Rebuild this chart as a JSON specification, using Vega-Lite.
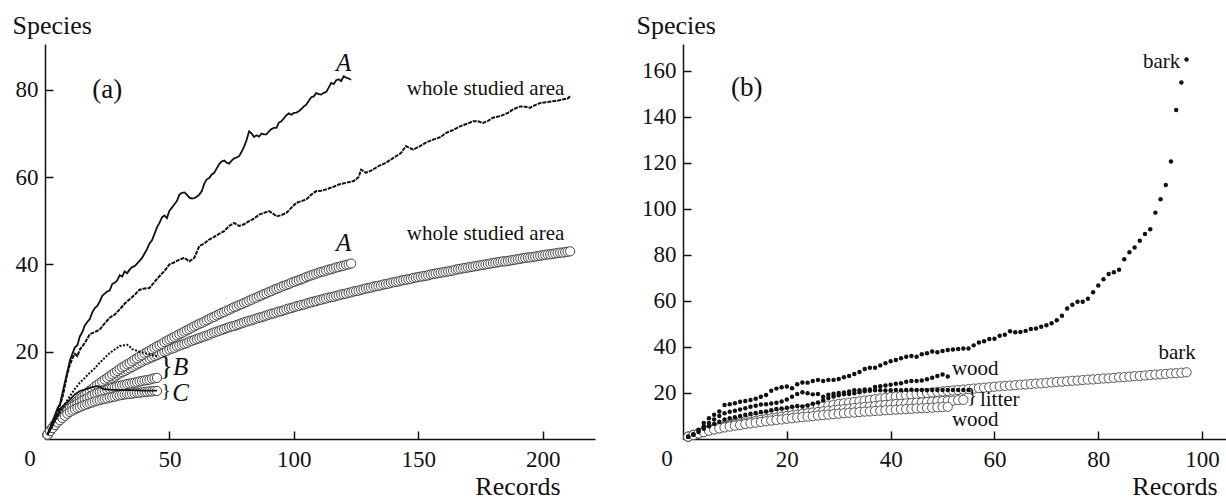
{
"$schema":"https://vega.github.io/schema/vega-lite/v6.json",
"background":"white",
"padding":{"left":12,"top":12,"right":0,"bottom":0},
"bounds":"flush",
"spacing":88,
"config":{"view":{"stroke":null},"font":"Liberation Serif",
"axis":{"grid":false,"domainColor":"#111","domainWidth":1.5,"tickColor":"#111","tickWidth":1.5,"tickSize":-8,"labelFont":"Liberation Serif","labelFontSize":23,"labelColor":"#111","titleFont":"Liberation Serif","titleFontSize":26,"titleFontWeight":"normal","titleColor":"#111"},
"axisX":{"labelPadding":17,"titleAngle":0,"titleAlign":"right","titleBaseline":"alphabetic","titleY":55.5},
"axisY":{"labelPadding":15,"titleAngle":0,"titleAlign":"left","titleBaseline":"alphabetic","titleY":-11}},
"datasets":{
"lA":[{"x":1,"y":1},{"x":2,"y":2.5},{"x":3,"y":4},{"x":4,"y":5.5},{"x":5,"y":7},{"x":6,"y":8},{"x":7,"y":10.5},{"x":8,"y":13},{"x":9,"y":15.5},{"x":10,"y":18},{"x":11,"y":19.5},{"x":12,"y":21},{"x":13,"y":21.5},{"x":14,"y":23.5},{"x":15,"y":24.5},{"x":16,"y":26},{"x":17,"y":26.8},{"x":18,"y":27.5},{"x":19,"y":29},{"x":20,"y":30},{"x":21,"y":30.5},{"x":22,"y":31.5},{"x":23,"y":32.8},{"x":24,"y":33.3},{"x":25,"y":33.8},{"x":26,"y":34},{"x":27,"y":35.5},{"x":28,"y":35.8},{"x":29,"y":36.3},{"x":30,"y":37.5},{"x":31,"y":37.2},{"x":32,"y":38.4},{"x":33,"y":38},{"x":34,"y":38.8},{"x":35,"y":39.4},{"x":36,"y":39.6},{"x":37,"y":40.2},{"x":38,"y":40.8},{"x":39,"y":41.5},{"x":40,"y":42.5},{"x":41,"y":43.5},{"x":42,"y":44.8},{"x":43,"y":45.5},{"x":44,"y":47},{"x":45,"y":48.5},{"x":46,"y":49.5},{"x":47,"y":50.8},{"x":48,"y":51.2},{"x":49,"y":50.6},{"x":50,"y":52.3},{"x":51,"y":53},{"x":52,"y":53.8},{"x":53,"y":54.5},{"x":54,"y":56},{"x":55,"y":56.4},{"x":56,"y":56.5},{"x":57,"y":56},{"x":58,"y":55.3},{"x":59,"y":55.1},{"x":60,"y":55.2},{"x":61,"y":55.5},{"x":62,"y":56},{"x":63,"y":56.8},{"x":64,"y":58.5},{"x":65,"y":59.5},{"x":66,"y":59.8},{"x":67,"y":60.6},{"x":68,"y":61},{"x":69,"y":62},{"x":70,"y":63},{"x":71,"y":63.6},{"x":72,"y":63.8},{"x":73,"y":63.3},{"x":74,"y":63.1},{"x":75,"y":63.8},{"x":76,"y":64.3},{"x":77,"y":64.5},{"x":78,"y":64.8},{"x":79,"y":65.8},{"x":80,"y":67},{"x":81,"y":68.5},{"x":82,"y":70.5},{"x":83,"y":70},{"x":84,"y":69.2},{"x":85,"y":69.6},{"x":86,"y":69.3},{"x":87,"y":70},{"x":88,"y":69.8},{"x":89,"y":69.8},{"x":90,"y":70.5},{"x":91,"y":71},{"x":92,"y":71.3},{"x":93,"y":71.3},{"x":94,"y":72.5},{"x":95,"y":72.8},{"x":96,"y":73.5},{"x":97,"y":74.2},{"x":98,"y":74.6},{"x":99,"y":74.3},{"x":100,"y":74.7},{"x":101,"y":74.8},{"x":102,"y":75.1},{"x":103,"y":75.6},{"x":104,"y":76.2},{"x":105,"y":76.6},{"x":106,"y":77.5},{"x":107,"y":78.3},{"x":108,"y":78.5},{"x":109,"y":79.3},{"x":110,"y":79},{"x":111,"y":78.9},{"x":112,"y":79.3},{"x":113,"y":79.5},{"x":114,"y":80.5},{"x":115,"y":81.6},{"x":116,"y":81.3},{"x":117,"y":82.2},{"x":118,"y":82.4},{"x":119,"y":82},{"x":120,"y":83.1},{"x":121,"y":82.8},{"x":122,"y":82.6},{"x":123,"y":82.3}],
"lW":[{"x":1,"y":1},{"x":3,"y":3.5},{"x":5,"y":6},{"x":7,"y":9.5},{"x":9,"y":15},{"x":10,"y":17},{"x":11,"y":18.5},{"x":12,"y":19.5},{"x":13,"y":19},{"x":14,"y":20.5},{"x":16,"y":22},{"x":18,"y":24},{"x":20,"y":24.5},{"x":22,"y":25.1},{"x":24,"y":26.5},{"x":26,"y":27.8},{"x":28,"y":28.5},{"x":30,"y":29.7},{"x":32,"y":31},{"x":34,"y":32},{"x":36,"y":33},{"x":38,"y":34.2},{"x":40,"y":34.5},{"x":42,"y":34.6},{"x":44,"y":36},{"x":46,"y":37.3},{"x":48,"y":38.5},{"x":50,"y":40},{"x":52,"y":40.5},{"x":54,"y":41.1},{"x":56,"y":41.5},{"x":58,"y":40.7},{"x":60,"y":41.5},{"x":62,"y":44.2},{"x":64,"y":44.8},{"x":66,"y":45.7},{"x":68,"y":46.3},{"x":70,"y":47},{"x":72,"y":47.6},{"x":74,"y":48.8},{"x":76,"y":49.5},{"x":78,"y":48.8},{"x":80,"y":49.2},{"x":82,"y":49.9},{"x":84,"y":50.5},{"x":86,"y":51.4},{"x":88,"y":51.8},{"x":90,"y":52.2},{"x":92,"y":51.5},{"x":93,"y":51},{"x":95,"y":51.3},{"x":97,"y":51.8},{"x":99,"y":53},{"x":101,"y":54.1},{"x":103,"y":54.5},{"x":105,"y":54.9},{"x":107,"y":56},{"x":109,"y":56.8},{"x":111,"y":56.9},{"x":113,"y":57.2},{"x":116,"y":57.8},{"x":118,"y":58.3},{"x":121,"y":58.7},{"x":124,"y":59.1},{"x":126,"y":60},{"x":127,"y":61.7},{"x":129,"y":61},{"x":131,"y":61.5},{"x":134,"y":62.5},{"x":137,"y":63.3},{"x":140,"y":64.4},{"x":143,"y":65.5},{"x":145,"y":67.1},{"x":148,"y":66.3},{"x":151,"y":67.2},{"x":153,"y":67.9},{"x":156,"y":68.6},{"x":159,"y":69.2},{"x":161,"y":70.1},{"x":164,"y":70.8},{"x":167,"y":71.7},{"x":170,"y":72.3},{"x":172,"y":72.8},{"x":174,"y":72.8},{"x":176,"y":72.4},{"x":178,"y":72.9},{"x":180,"y":73.6},{"x":183,"y":74},{"x":186,"y":74.7},{"x":188,"y":75.5},{"x":191,"y":76.2},{"x":193,"y":76.1},{"x":195,"y":75.9},{"x":197,"y":76.5},{"x":199,"y":77},{"x":202,"y":77.2},{"x":204,"y":77.4},{"x":206,"y":77.5},{"x":208,"y":77.8},{"x":210,"y":78},{"x":211,"y":78.5}],
"lB":[{"x":1,"y":1},{"x":2,"y":2},{"x":3,"y":3},{"x":4,"y":4.2},{"x":5,"y":5},{"x":6,"y":6},{"x":8,"y":8},{"x":10,"y":9.8},{"x":12,"y":11.5},{"x":14,"y":12.9},{"x":16,"y":14},{"x":18,"y":15.2},{"x":20,"y":16.2},{"x":22,"y":17.5},{"x":24,"y":18.6},{"x":26,"y":19.7},{"x":28,"y":20.5},{"x":30,"y":21.3},{"x":32,"y":21.5},{"x":33,"y":21.6},{"x":34,"y":21.2},{"x":35,"y":20.6},{"x":36,"y":20.4},{"x":38,"y":20},{"x":40,"y":19.7},{"x":42,"y":19.4},{"x":44,"y":19.1},{"x":45,"y":19}],
"lC":[{"x":1,"y":1},{"x":2,"y":2},{"x":3,"y":3},{"x":4,"y":4.3},{"x":5,"y":5.5},{"x":6,"y":6.8},{"x":8,"y":8},{"x":10,"y":9},{"x":12,"y":10.2},{"x":14,"y":11},{"x":16,"y":11.3},{"x":18,"y":11.7},{"x":20,"y":12},{"x":21,"y":12.1},{"x":22,"y":12},{"x":23,"y":11.6},{"x":24,"y":11.4},{"x":26,"y":11.3},{"x":30,"y":11.2},{"x":35,"y":11.2},{"x":40,"y":11.1},{"x":45,"y":11.1}],
"cW":[{"x":1,"y":1},{"x":2,"y":1.8},{"x":3,"y":2.5},{"x":4,"y":3.3},{"x":5,"y":4},{"x":6,"y":4.6},{"x":7,"y":5.2},{"x":8,"y":5.8},{"x":9,"y":6.4},{"x":10,"y":7},{"x":11,"y":7.5},{"x":12,"y":8},{"x":13,"y":8.5},{"x":14,"y":8.9},{"x":15,"y":9.4},{"x":16,"y":9.8},{"x":17,"y":10.2},{"x":18,"y":10.7},{"x":19,"y":11.1},{"x":20,"y":11.5},{"x":21,"y":11.9},{"x":22,"y":12.2},{"x":23,"y":12.6},{"x":24,"y":12.9},{"x":25,"y":13.3},{"x":26,"y":13.6},{"x":27,"y":14},{"x":28,"y":14.3},{"x":29,"y":14.7},{"x":30,"y":15},{"x":31,"y":15.3},{"x":32,"y":15.6},{"x":33,"y":15.9},{"x":34,"y":16.2},{"x":35,"y":16.5},{"x":36,"y":16.8},{"x":37,"y":17.1},{"x":38,"y":17.4},{"x":39,"y":17.7},{"x":40,"y":18},{"x":41,"y":18.2},{"x":42,"y":18.5},{"x":43,"y":18.7},{"x":44,"y":19},{"x":45,"y":19.2},{"x":46,"y":19.5},{"x":47,"y":19.7},{"x":48,"y":20},{"x":49,"y":20.2},{"x":50,"y":20.5},{"x":51,"y":20.7},{"x":52,"y":20.9},{"x":53,"y":21.2},{"x":54,"y":21.4},{"x":55,"y":21.6},{"x":56,"y":21.8},{"x":57,"y":22},{"x":58,"y":22.3},{"x":59,"y":22.5},{"x":60,"y":22.7},{"x":61,"y":22.9},{"x":62,"y":23.1},{"x":63,"y":23.3},{"x":64,"y":23.5},{"x":65,"y":23.7},{"x":66,"y":23.9},{"x":67,"y":24.2},{"x":68,"y":24.4},{"x":69,"y":24.6},{"x":70,"y":24.8},{"x":71,"y":25},{"x":72,"y":25.2},{"x":73,"y":25.4},{"x":74,"y":25.6},{"x":75,"y":25.8},{"x":76,"y":25.9},{"x":77,"y":26.1},{"x":78,"y":26.3},{"x":79,"y":26.5},{"x":80,"y":26.7},{"x":81,"y":26.9},{"x":82,"y":27.1},{"x":83,"y":27.2},{"x":84,"y":27.4},{"x":85,"y":27.6},{"x":86,"y":27.8},{"x":87,"y":27.9},{"x":88,"y":28.1},{"x":89,"y":28.3},{"x":90,"y":28.5},{"x":91,"y":28.7},{"x":92,"y":28.8},{"x":93,"y":29},{"x":94,"y":29.2},{"x":95,"y":29.3},{"x":96,"y":29.5},{"x":97,"y":29.7},{"x":98,"y":29.9},{"x":99,"y":30},{"x":100,"y":30.2},{"x":101,"y":30.4},{"x":102,"y":30.5},{"x":103,"y":30.7},{"x":104,"y":30.8},{"x":105,"y":31},{"x":106,"y":31.2},{"x":107,"y":31.3},{"x":108,"y":31.5},{"x":109,"y":31.6},{"x":110,"y":31.8},{"x":111,"y":31.9},{"x":112,"y":32.1},{"x":113,"y":32.2},{"x":114,"y":32.4},{"x":115,"y":32.5},{"x":116,"y":32.6},{"x":117,"y":32.8},{"x":118,"y":32.9},{"x":119,"y":33.1},{"x":120,"y":33.2},{"x":121,"y":33.3},{"x":122,"y":33.5},{"x":123,"y":33.6},{"x":124,"y":33.8},{"x":125,"y":33.9},{"x":126,"y":34},{"x":127,"y":34.2},{"x":128,"y":34.3},{"x":129,"y":34.5},{"x":130,"y":34.6},{"x":131,"y":34.7},{"x":132,"y":34.9},{"x":133,"y":35},{"x":134,"y":35.1},{"x":135,"y":35.2},{"x":136,"y":35.4},{"x":137,"y":35.5},{"x":138,"y":35.6},{"x":139,"y":35.8},{"x":140,"y":35.9},{"x":141,"y":36},{"x":142,"y":36.1},{"x":143,"y":36.3},{"x":144,"y":36.4},{"x":145,"y":36.5},{"x":146,"y":36.6},{"x":147,"y":36.7},{"x":148,"y":36.9},{"x":149,"y":37},{"x":150,"y":37.1},{"x":151,"y":37.2},{"x":152,"y":37.3},{"x":153,"y":37.4},{"x":154,"y":37.5},{"x":155,"y":37.7},{"x":156,"y":37.8},{"x":157,"y":37.9},{"x":158,"y":38},{"x":159,"y":38.1},{"x":160,"y":38.2},{"x":161,"y":38.3},{"x":162,"y":38.4},{"x":163,"y":38.5},{"x":164,"y":38.6},{"x":165,"y":38.8},{"x":166,"y":38.9},{"x":167,"y":39},{"x":168,"y":39.1},{"x":169,"y":39.2},{"x":170,"y":39.3},{"x":171,"y":39.4},{"x":172,"y":39.5},{"x":173,"y":39.6},{"x":174,"y":39.7},{"x":175,"y":39.8},{"x":176,"y":39.9},{"x":177,"y":40},{"x":178,"y":40.1},{"x":179,"y":40.2},{"x":180,"y":40.3},{"x":181,"y":40.4},{"x":182,"y":40.5},{"x":183,"y":40.6},{"x":184,"y":40.7},{"x":185,"y":40.7},{"x":186,"y":40.8},{"x":187,"y":40.9},{"x":188,"y":41},{"x":189,"y":41.1},{"x":190,"y":41.2},{"x":191,"y":41.3},{"x":192,"y":41.4},{"x":193,"y":41.5},{"x":194,"y":41.6},{"x":195,"y":41.6},{"x":196,"y":41.7},{"x":197,"y":41.8},{"x":198,"y":41.9},{"x":199,"y":42},{"x":200,"y":42.1},{"x":201,"y":42.2},{"x":202,"y":42.3},{"x":203,"y":42.3},{"x":204,"y":42.4},{"x":205,"y":42.5},{"x":206,"y":42.6},{"x":207,"y":42.7},{"x":208,"y":42.7},{"x":209,"y":42.8},{"x":210,"y":42.9},{"x":211,"y":43}],
"cA":[{"x":1,"y":1},{"x":2,"y":1.8},{"x":3,"y":2.6},{"x":4,"y":3.4},{"x":5,"y":4.2},{"x":6,"y":4.8},{"x":7,"y":5.4},{"x":8,"y":6},{"x":9,"y":6.6},{"x":10,"y":7.2},{"x":11,"y":7.7},{"x":12,"y":8.2},{"x":13,"y":8.7},{"x":14,"y":9.2},{"x":15,"y":9.6},{"x":16,"y":10.1},{"x":17,"y":10.6},{"x":18,"y":11.1},{"x":19,"y":11.5},{"x":20,"y":12},{"x":21,"y":12.4},{"x":22,"y":12.8},{"x":23,"y":13.2},{"x":24,"y":13.6},{"x":25,"y":14},{"x":26,"y":14.4},{"x":27,"y":14.8},{"x":28,"y":15.2},{"x":29,"y":15.6},{"x":30,"y":16},{"x":31,"y":16.4},{"x":32,"y":16.7},{"x":33,"y":17.1},{"x":34,"y":17.4},{"x":35,"y":17.8},{"x":36,"y":18.2},{"x":37,"y":18.5},{"x":38,"y":18.9},{"x":39,"y":19.2},{"x":40,"y":19.6},{"x":41,"y":19.9},{"x":42,"y":20.2},{"x":43,"y":20.6},{"x":44,"y":20.9},{"x":45,"y":21.2},{"x":46,"y":21.5},{"x":47,"y":21.8},{"x":48,"y":22.2},{"x":49,"y":22.5},{"x":50,"y":22.8},{"x":51,"y":23.1},{"x":52,"y":23.4},{"x":53,"y":23.7},{"x":54,"y":24},{"x":55,"y":24.3},{"x":56,"y":24.6},{"x":57,"y":24.9},{"x":58,"y":25.2},{"x":59,"y":25.5},{"x":60,"y":25.8},{"x":61,"y":26.1},{"x":62,"y":26.4},{"x":63,"y":26.6},{"x":64,"y":26.9},{"x":65,"y":27.2},{"x":66,"y":27.5},{"x":67,"y":27.8},{"x":68,"y":28},{"x":69,"y":28.3},{"x":70,"y":28.6},{"x":71,"y":28.9},{"x":72,"y":29.1},{"x":73,"y":29.4},{"x":74,"y":29.6},{"x":75,"y":29.9},{"x":76,"y":30.2},{"x":77,"y":30.4},{"x":78,"y":30.7},{"x":79,"y":30.9},{"x":80,"y":31.2},{"x":81,"y":31.4},{"x":82,"y":31.7},{"x":83,"y":31.9},{"x":84,"y":32.2},{"x":85,"y":32.4},{"x":86,"y":32.7},{"x":87,"y":32.9},{"x":88,"y":33.2},{"x":89,"y":33.4},{"x":90,"y":33.7},{"x":91,"y":33.9},{"x":92,"y":34.2},{"x":93,"y":34.4},{"x":94,"y":34.6},{"x":95,"y":34.9},{"x":96,"y":35.1},{"x":97,"y":35.3},{"x":98,"y":35.5},{"x":99,"y":35.8},{"x":100,"y":36},{"x":101,"y":36.2},{"x":102,"y":36.4},{"x":103,"y":36.6},{"x":104,"y":36.8},{"x":105,"y":37.1},{"x":106,"y":37.3},{"x":107,"y":37.5},{"x":108,"y":37.7},{"x":109,"y":37.9},{"x":110,"y":38.1},{"x":111,"y":38.3},{"x":112,"y":38.4},{"x":113,"y":38.6},{"x":114,"y":38.8},{"x":115,"y":38.9},{"x":116,"y":39.1},{"x":117,"y":39.3},{"x":118,"y":39.4},{"x":119,"y":39.6},{"x":120,"y":39.7},{"x":121,"y":39.9},{"x":122,"y":40},{"x":123,"y":40.2}],
"cB":[{"x":1,"y":1},{"x":2,"y":1.8},{"x":3,"y":2.6},{"x":4,"y":3.3},{"x":5,"y":4},{"x":6,"y":4.6},{"x":7,"y":5.2},{"x":8,"y":5.8},{"x":9,"y":6.4},{"x":10,"y":7},{"x":11,"y":7.4},{"x":12,"y":7.7},{"x":13,"y":8.1},{"x":14,"y":8.4},{"x":15,"y":8.8},{"x":16,"y":9.1},{"x":17,"y":9.4},{"x":18,"y":9.7},{"x":19,"y":10},{"x":20,"y":10.3},{"x":21,"y":10.5},{"x":22,"y":10.7},{"x":23,"y":10.9},{"x":24,"y":11.1},{"x":25,"y":11.3},{"x":26,"y":11.5},{"x":27,"y":11.7},{"x":28,"y":11.8},{"x":29,"y":12},{"x":30,"y":12.2},{"x":31,"y":12.3},{"x":32,"y":12.4},{"x":33,"y":12.6},{"x":34,"y":12.7},{"x":35,"y":12.8},{"x":36,"y":12.9},{"x":37,"y":13},{"x":38,"y":13.2},{"x":39,"y":13.3},{"x":40,"y":13.4},{"x":41,"y":13.5},{"x":42,"y":13.6},{"x":43,"y":13.8},{"x":44,"y":13.9},{"x":45,"y":14}],
"cC":[{"x":1,"y":1},{"x":2,"y":1.8},{"x":3,"y":2.5},{"x":4,"y":3.2},{"x":5,"y":3.8},{"x":6,"y":4.3},{"x":7,"y":4.8},{"x":8,"y":5.3},{"x":9,"y":5.8},{"x":10,"y":6.2},{"x":11,"y":6.5},{"x":12,"y":6.8},{"x":13,"y":7.1},{"x":14,"y":7.3},{"x":15,"y":7.6},{"x":16,"y":7.8},{"x":17,"y":8},{"x":18,"y":8.2},{"x":19,"y":8.4},{"x":20,"y":8.6},{"x":21,"y":8.8},{"x":22,"y":8.9},{"x":23,"y":9.1},{"x":24,"y":9.2},{"x":25,"y":9.3},{"x":26,"y":9.5},{"x":27,"y":9.6},{"x":28,"y":9.7},{"x":29,"y":9.9},{"x":30,"y":10},{"x":31,"y":10.1},{"x":32,"y":10.2},{"x":33,"y":10.3},{"x":34,"y":10.3},{"x":35,"y":10.4},{"x":36,"y":10.5},{"x":37,"y":10.6},{"x":38,"y":10.6},{"x":39,"y":10.7},{"x":40,"y":10.8},{"x":41,"y":10.8},{"x":42,"y":10.9},{"x":43,"y":10.9},{"x":44,"y":11},{"x":45,"y":11}],
"dBark":[{"x":1,"y":1},{"x":2,"y":2},{"x":3,"y":4},{"x":4,"y":7},{"x":5,"y":9},{"x":6,"y":10.5},{"x":7,"y":12},{"x":8,"y":14.8},{"x":9,"y":15.1},{"x":10,"y":15.5},{"x":11,"y":16.2},{"x":12,"y":16.5},{"x":13,"y":17},{"x":14,"y":17.5},{"x":15,"y":18.4},{"x":16,"y":19.1},{"x":17,"y":21},{"x":18,"y":21.9},{"x":19,"y":22.5},{"x":20,"y":22.8},{"x":21,"y":22.1},{"x":22,"y":23.8},{"x":23,"y":24.6},{"x":24,"y":24.5},{"x":25,"y":25.2},{"x":26,"y":25.7},{"x":27,"y":25.2},{"x":28,"y":25.7},{"x":29,"y":25.7},{"x":30,"y":26.1},{"x":31,"y":26.8},{"x":32,"y":27.4},{"x":33,"y":28.3},{"x":34,"y":29.1},{"x":35,"y":30.4},{"x":36,"y":31},{"x":37,"y":31},{"x":38,"y":32},{"x":39,"y":32.9},{"x":40,"y":33.8},{"x":41,"y":34.3},{"x":42,"y":35.1},{"x":43,"y":35.8},{"x":44,"y":36.1},{"x":45,"y":35.8},{"x":46,"y":36.8},{"x":47,"y":37.3},{"x":48,"y":38},{"x":49,"y":37.7},{"x":50,"y":38.3},{"x":51,"y":38.7},{"x":52,"y":38.9},{"x":53,"y":39.1},{"x":54,"y":39.3},{"x":55,"y":39.3},{"x":56,"y":40.7},{"x":57,"y":41.9},{"x":58,"y":42.5},{"x":59,"y":43.5},{"x":60,"y":43.6},{"x":61,"y":44.9},{"x":62,"y":45.3},{"x":63,"y":46.8},{"x":64,"y":46.4},{"x":65,"y":46.5},{"x":66,"y":47},{"x":67,"y":47.8},{"x":68,"y":48},{"x":69,"y":48.8},{"x":70,"y":49.4},{"x":71,"y":50.3},{"x":72,"y":51.6},{"x":73,"y":53.6},{"x":74,"y":56.7},{"x":75,"y":58.4},{"x":76,"y":59.7},{"x":77,"y":59.7},{"x":78,"y":61},{"x":79,"y":63.8},{"x":80,"y":66.7},{"x":81,"y":69.4},{"x":82,"y":71.7},{"x":83,"y":72.5},{"x":84,"y":73.6},{"x":85,"y":78.1},{"x":86,"y":81.2},{"x":87,"y":83.2},{"x":88,"y":86.2},{"x":89,"y":89.1},{"x":90,"y":91.2},{"x":91,"y":98.4},{"x":92,"y":104.2},{"x":93,"y":110.4},{"x":94,"y":120.6},{"x":95,"y":143},{"x":96,"y":155},{"x":97,"y":165}],
"dWood":[{"x":1,"y":1},{"x":2,"y":2},{"x":3,"y":3.5},{"x":4,"y":5.5},{"x":5,"y":7},{"x":6,"y":8.5},{"x":7,"y":10},{"x":8,"y":11.2},{"x":9,"y":11.8},{"x":10,"y":12.3},{"x":11,"y":12.8},{"x":12,"y":13.4},{"x":13,"y":14},{"x":14,"y":14.5},{"x":15,"y":15},{"x":16,"y":15.1},{"x":17,"y":15.4},{"x":18,"y":15.8},{"x":19,"y":16.3},{"x":20,"y":17.2},{"x":21,"y":18.4},{"x":22,"y":19.6},{"x":23,"y":20.3},{"x":24,"y":19.9},{"x":25,"y":19.4},{"x":26,"y":19.6},{"x":27,"y":18.4},{"x":28,"y":19.2},{"x":29,"y":19.7},{"x":30,"y":20},{"x":31,"y":20.2},{"x":32,"y":20.7},{"x":33,"y":21.2},{"x":34,"y":21.2},{"x":35,"y":21.5},{"x":36,"y":21.5},{"x":37,"y":22.6},{"x":38,"y":22.9},{"x":39,"y":23.3},{"x":40,"y":23.6},{"x":41,"y":24},{"x":42,"y":24.2},{"x":43,"y":24.9},{"x":44,"y":25.2},{"x":45,"y":25.2},{"x":46,"y":25.4},{"x":47,"y":26},{"x":48,"y":26.6},{"x":49,"y":27.4},{"x":50,"y":28},{"x":51,"y":27.2}],
"dLitter":[{"x":1,"y":1},{"x":2,"y":2},{"x":3,"y":3},{"x":4,"y":4.5},{"x":5,"y":5.5},{"x":6,"y":6.5},{"x":7,"y":7.5},{"x":8,"y":8.5},{"x":9,"y":9},{"x":10,"y":9.5},{"x":11,"y":10},{"x":12,"y":10.5},{"x":13,"y":11},{"x":14,"y":11.3},{"x":15,"y":11.7},{"x":16,"y":12},{"x":17,"y":12.5},{"x":18,"y":13},{"x":19,"y":13.3},{"x":20,"y":13.6},{"x":21,"y":14},{"x":22,"y":14.3},{"x":23,"y":14.1},{"x":24,"y":14.6},{"x":25,"y":15.3},{"x":26,"y":15.9},{"x":27,"y":16.8},{"x":28,"y":17.8},{"x":29,"y":18.5},{"x":30,"y":19},{"x":31,"y":19.4},{"x":32,"y":19.6},{"x":33,"y":19.9},{"x":34,"y":20.3},{"x":35,"y":20.8},{"x":36,"y":21},{"x":37,"y":21.2},{"x":38,"y":21.2},{"x":39,"y":21.1},{"x":40,"y":21.2},{"x":41,"y":21.3},{"x":42,"y":21.2},{"x":43,"y":21.3},{"x":44,"y":21.4},{"x":45,"y":21.3},{"x":46,"y":21.3},{"x":47,"y":21.2},{"x":48,"y":21.3},{"x":49,"y":21.3},{"x":50,"y":21.3},{"x":51,"y":21.3},{"x":52,"y":21.3},{"x":53,"y":21.3},{"x":54,"y":21.3},{"x":55,"y":21.3}],
"rBark":[{"x":1,"y":1},{"x":2,"y":1.8},{"x":3,"y":2.5},{"x":4,"y":3.3},{"x":5,"y":4},{"x":6,"y":4.6},{"x":7,"y":5.2},{"x":8,"y":5.8},{"x":9,"y":6.3},{"x":10,"y":6.8},{"x":11,"y":7.3},{"x":12,"y":7.8},{"x":13,"y":8.3},{"x":14,"y":8.8},{"x":15,"y":9.3},{"x":16,"y":9.8},{"x":17,"y":10.2},{"x":18,"y":10.7},{"x":19,"y":11.1},{"x":20,"y":11.5},{"x":21,"y":11.9},{"x":22,"y":12.3},{"x":23,"y":12.7},{"x":24,"y":13.1},{"x":25,"y":13.4},{"x":26,"y":13.8},{"x":27,"y":14.1},{"x":28,"y":14.5},{"x":29,"y":14.9},{"x":30,"y":15.2},{"x":31,"y":15.5},{"x":32,"y":15.8},{"x":33,"y":16.1},{"x":34,"y":16.4},{"x":35,"y":16.7},{"x":36,"y":17},{"x":37,"y":17.3},{"x":38,"y":17.6},{"x":39,"y":17.9},{"x":40,"y":18.2},{"x":41,"y":18.5},{"x":42,"y":18.7},{"x":43,"y":19},{"x":44,"y":19.2},{"x":45,"y":19.5},{"x":46,"y":19.7},{"x":47,"y":20},{"x":48,"y":20.2},{"x":49,"y":20.5},{"x":50,"y":20.7},{"x":51,"y":20.9},{"x":52,"y":21.1},{"x":53,"y":21.3},{"x":54,"y":21.5},{"x":55,"y":21.7},{"x":56,"y":21.9},{"x":57,"y":22.1},{"x":58,"y":22.3},{"x":59,"y":22.5},{"x":60,"y":22.7},{"x":61,"y":22.9},{"x":62,"y":23.1},{"x":63,"y":23.2},{"x":64,"y":23.4},{"x":65,"y":23.6},{"x":66,"y":23.7},{"x":67,"y":23.9},{"x":68,"y":24.1},{"x":69,"y":24.2},{"x":70,"y":24.4},{"x":71,"y":24.6},{"x":72,"y":24.8},{"x":73,"y":24.9},{"x":74,"y":25.1},{"x":75,"y":25.3},{"x":76,"y":25.4},{"x":77,"y":25.6},{"x":78,"y":25.8},{"x":79,"y":25.9},{"x":80,"y":26.1},{"x":81,"y":26.3},{"x":82,"y":26.4},{"x":83,"y":26.6},{"x":84,"y":26.8},{"x":85,"y":26.9},{"x":86,"y":27.1},{"x":87,"y":27.3},{"x":88,"y":27.4},{"x":89,"y":27.6},{"x":90,"y":27.8},{"x":91,"y":28},{"x":92,"y":28.1},{"x":93,"y":28.3},{"x":94,"y":28.5},{"x":95,"y":28.6},{"x":96,"y":28.8},{"x":97,"y":29}],
"rLitter":[{"x":1,"y":1},{"x":2,"y":1.8},{"x":3,"y":2.5},{"x":4,"y":3.2},{"x":5,"y":3.8},{"x":6,"y":4.3},{"x":7,"y":4.8},{"x":8,"y":5.3},{"x":9,"y":5.8},{"x":10,"y":6.3},{"x":11,"y":6.7},{"x":12,"y":7.1},{"x":13,"y":7.5},{"x":14,"y":7.9},{"x":15,"y":8.3},{"x":16,"y":8.6},{"x":17,"y":9},{"x":18,"y":9.3},{"x":19,"y":9.7},{"x":20,"y":10},{"x":21,"y":10.3},{"x":22,"y":10.6},{"x":23,"y":10.9},{"x":24,"y":11.2},{"x":25,"y":11.5},{"x":26,"y":11.7},{"x":27,"y":12},{"x":28,"y":12.3},{"x":29,"y":12.5},{"x":30,"y":12.8},{"x":31,"y":13},{"x":32,"y":13.2},{"x":33,"y":13.5},{"x":34,"y":13.7},{"x":35,"y":13.9},{"x":36,"y":14.1},{"x":37,"y":14.3},{"x":38,"y":14.6},{"x":39,"y":14.8},{"x":40,"y":15},{"x":41,"y":15.2},{"x":42,"y":15.3},{"x":43,"y":15.5},{"x":44,"y":15.6},{"x":45,"y":15.8},{"x":46,"y":15.9},{"x":47,"y":16.1},{"x":48,"y":16.2},{"x":49,"y":16.4},{"x":50,"y":16.5},{"x":51,"y":16.6},{"x":52,"y":16.7},{"x":53,"y":16.9},{"x":54,"y":17}],
"rWood":[{"x":1,"y":1},{"x":2,"y":1.7},{"x":3,"y":2.4},{"x":4,"y":3},{"x":5,"y":3.6},{"x":6,"y":4.1},{"x":7,"y":4.6},{"x":8,"y":5},{"x":9,"y":5.4},{"x":10,"y":5.8},{"x":11,"y":6.1},{"x":12,"y":6.5},{"x":13,"y":6.8},{"x":14,"y":7.1},{"x":15,"y":7.4},{"x":16,"y":7.7},{"x":17,"y":8},{"x":18,"y":8.3},{"x":19,"y":8.5},{"x":20,"y":8.8},{"x":21,"y":9},{"x":22,"y":9.3},{"x":23,"y":9.5},{"x":24,"y":9.7},{"x":25,"y":9.9},{"x":26,"y":10.2},{"x":27,"y":10.4},{"x":28,"y":10.6},{"x":29,"y":10.8},{"x":30,"y":11},{"x":31,"y":11.2},{"x":32,"y":11.4},{"x":33,"y":11.5},{"x":34,"y":11.7},{"x":35,"y":11.9},{"x":36,"y":12},{"x":37,"y":12.2},{"x":38,"y":12.3},{"x":39,"y":12.5},{"x":40,"y":12.6},{"x":41,"y":12.7},{"x":42,"y":12.9},{"x":43,"y":13},{"x":44,"y":13.1},{"x":45,"y":13.3},{"x":46,"y":13.4},{"x":47,"y":13.5},{"x":48,"y":13.6},{"x":49,"y":13.8},{"x":50,"y":13.9},{"x":51,"y":14}]
},
"hconcat":[
{"width":550,"height":395,
"layer":[
{"data":{"name":"cW"},"mark":{"type":"point","shape":"circle","filled":true,"fill":"white","stroke":"#444","strokeWidth":1,"size":85,"opacity":1},
"encoding":{"x":{"field":"x","type":"quantitative","scale":{"domain":[0,221],"nice":false,"zero":false},"axis":{"values":[50,100,150,200],"title":"Records","titleX":515}},
"y":{"field":"y","type":"quantitative","scale":{"domain":[0,90.5],"nice":false,"zero":false},"axis":{"values":[20,40,60,80],"title":"Species","titleX":-33}}}},
{"data":{"name":"cA"},"mark":{"type":"point","shape":"circle","filled":true,"fill":"white","stroke":"#444","strokeWidth":1,"size":85,"opacity":1},"encoding":{"x":{"field":"x","type":"quantitative"},"y":{"field":"y","type":"quantitative"}}},
{"data":{"name":"cB"},"mark":{"type":"point","shape":"circle","filled":true,"fill":"white","stroke":"#444","strokeWidth":1,"size":85,"opacity":1},"encoding":{"x":{"field":"x","type":"quantitative"},"y":{"field":"y","type":"quantitative"}}},
{"data":{"name":"cC"},"mark":{"type":"point","shape":"circle","filled":true,"fill":"white","stroke":"#444","strokeWidth":1,"size":85,"opacity":1},"encoding":{"x":{"field":"x","type":"quantitative"},"y":{"field":"y","type":"quantitative"}}},
{"data":{"name":"lW"},"mark":{"type":"line","color":"#111","strokeWidth":2,"strokeDash":[4,1]},"encoding":{"x":{"field":"x","type":"quantitative"},"y":{"field":"y","type":"quantitative"}}},
{"data":{"name":"lA"},"mark":{"type":"line","color":"#111","strokeWidth":1.8},"encoding":{"x":{"field":"x","type":"quantitative"},"y":{"field":"y","type":"quantitative"}}},
{"data":{"name":"lB"},"mark":{"type":"line","color":"#111","strokeWidth":2,"strokeDash":[2,1.5]},"encoding":{"x":{"field":"x","type":"quantitative"},"y":{"field":"y","type":"quantitative"}}},
{"data":{"name":"lC"},"mark":{"type":"line","color":"#111","strokeWidth":1.8},"encoding":{"x":{"field":"x","type":"quantitative"},"y":{"field":"y","type":"quantitative"}}},
{"data":{"values":[{"x":0,"y":0,"t":"0"}]},"mark":{"type":"text","font":"Liberation Serif","fontSize":23,"color":"#111","align":"center","baseline":"middle","dx":-15,"dy":20},"encoding":{"x":{"field":"x","type":"quantitative"},"y":{"field":"y","type":"quantitative"},"text":{"field":"t"}}},
{"data":{"values":[{"x":25,"y":80,"t":"(a)"}]},"mark":{"type":"text","font":"Liberation Serif","fontSize":27,"color":"#111","align":"center","baseline":"middle"},"encoding":{"x":{"field":"x","type":"quantitative"},"y":{"field":"y","type":"quantitative"},"text":{"field":"t"}}},
{"data":{"values":[{"x":120,"y":86.2,"t":"A"},{"x":120,"y":44.8,"t":"A"},{"x":54.5,"y":16.4,"t":"B"},{"x":54.5,"y":10.6,"t":"C"}]},"mark":{"type":"text","font":"Liberation Serif","fontSize":25,"fontStyle":"italic","color":"#111","align":"center","baseline":"middle"},"encoding":{"x":{"field":"x","type":"quantitative"},"y":{"field":"y","type":"quantitative"},"text":{"field":"t"}}},
{"data":{"values":[{"x":145.4,"y":78.9,"t":"whole studied area"},{"x":145.4,"y":45.7,"t":"whole studied area"}]},"mark":{"type":"text","font":"Liberation Serif","fontSize":21,"color":"#111","align":"left","baseline":"alphabetic"},"encoding":{"x":{"field":"x","type":"quantitative"},"y":{"field":"y","type":"quantitative"},"text":{"field":"t"}}},
{"data":{"values":[{"x":48.7,"y":16.4,"t":"}"}]},"mark":{"type":"text","font":"Liberation Serif","fontSize":28,"color":"#111","align":"center","baseline":"middle"},"encoding":{"x":{"field":"x","type":"quantitative"},"y":{"field":"y","type":"quantitative"},"text":{"field":"t"}}},
{"data":{"values":[{"x":48.6,"y":10.9,"t":"}"}]},"mark":{"type":"text","font":"Liberation Serif","fontSize":19,"color":"#111","align":"center","baseline":"middle"},"encoding":{"x":{"field":"x","type":"quantitative"},"y":{"field":"y","type":"quantitative"},"text":{"field":"t"}}}
]},
{"width":543,"height":395,
"layer":[
{"data":{"name":"rBark"},"mark":{"type":"point","shape":"circle","filled":true,"fill":"white","stroke":"#444","strokeWidth":0.9,"size":85,"opacity":1},
"encoding":{"x":{"field":"x","type":"quantitative","scale":{"domain":[0,104.6],"nice":false,"zero":false},"axis":{"values":[20,40,60,80,100],"title":"Records","titleX":534}},
"y":{"field":"y","type":"quantitative","scale":{"domain":[0,171.7],"nice":false,"zero":false},"axis":{"values":[20,40,60,80,100,120,140,160],"title":"Species","titleX":-47}}}},
{"data":{"name":"rLitter"},"mark":{"type":"point","shape":"circle","filled":true,"fill":"white","stroke":"#444","strokeWidth":0.9,"size":85,"opacity":1},"encoding":{"x":{"field":"x","type":"quantitative"},"y":{"field":"y","type":"quantitative"}}},
{"data":{"name":"rWood"},"mark":{"type":"point","shape":"circle","filled":true,"fill":"white","stroke":"#444","strokeWidth":0.9,"size":85,"opacity":1},"encoding":{"x":{"field":"x","type":"quantitative"},"y":{"field":"y","type":"quantitative"}}},
{"data":{"name":"dLitter"},"mark":{"type":"point","shape":"circle","filled":true,"color":"#111","size":20,"opacity":1},"encoding":{"x":{"field":"x","type":"quantitative"},"y":{"field":"y","type":"quantitative"}}},
{"data":{"name":"dWood"},"mark":{"type":"point","shape":"circle","filled":true,"color":"#111","size":20,"opacity":1},"encoding":{"x":{"field":"x","type":"quantitative"},"y":{"field":"y","type":"quantitative"}}},
{"data":{"name":"dBark"},"mark":{"type":"point","shape":"circle","filled":true,"color":"#111","size":20,"opacity":1},"encoding":{"x":{"field":"x","type":"quantitative"},"y":{"field":"y","type":"quantitative"}}},
{"data":{"values":[{"x":0,"y":0,"t":"0"}]},"mark":{"type":"text","font":"Liberation Serif","fontSize":23,"color":"#111","align":"center","baseline":"middle","dx":-16,"dy":20},"encoding":{"x":{"field":"x","type":"quantitative"},"y":{"field":"y","type":"quantitative"},"text":{"field":"t"}}},
{"data":{"values":[{"x":12.3,"y":152.6,"t":"(b)"}]},"mark":{"type":"text","font":"Liberation Serif","fontSize":27,"color":"#111","align":"center","baseline":"middle"},"encoding":{"x":{"field":"x","type":"quantitative"},"y":{"field":"y","type":"quantitative"},"text":{"field":"t"}}},
{"data":{"values":[{"x":95.8,"y":161.2,"t":"bark"}]},"mark":{"type":"text","font":"Liberation Serif","fontSize":21,"color":"#111","align":"right","baseline":"alphabetic"},"encoding":{"x":{"field":"x","type":"quantitative"},"y":{"field":"y","type":"quantitative"},"text":{"field":"t"}}},
{"data":{"values":[{"x":95.2,"y":34.7,"t":"bark"}]},"mark":{"type":"text","font":"Liberation Serif","fontSize":21,"color":"#111","align":"center","baseline":"alphabetic"},"encoding":{"x":{"field":"x","type":"quantitative"},"y":{"field":"y","type":"quantitative"},"text":{"field":"t"}}},
{"data":{"values":[{"x":51.8,"y":27.8,"t":"wood"},{"x":57.2,"y":14.3,"t":"litter"},{"x":51.8,"y":5.8,"t":"wood"}]},"mark":{"type":"text","font":"Liberation Serif","fontSize":21,"color":"#111","align":"left","baseline":"alphabetic"},"encoding":{"x":{"field":"x","type":"quantitative"},"y":{"field":"y","type":"quantitative"},"text":{"field":"t"}}},
{"data":{"values":[{"x":55.7,"y":18.7,"t":"}"}]},"mark":{"type":"text","font":"Liberation Serif","fontSize":21,"color":"#111","align":"center","baseline":"middle"},"encoding":{"x":{"field":"x","type":"quantitative"},"y":{"field":"y","type":"quantitative"},"text":{"field":"t"}}}
]}
]
}
